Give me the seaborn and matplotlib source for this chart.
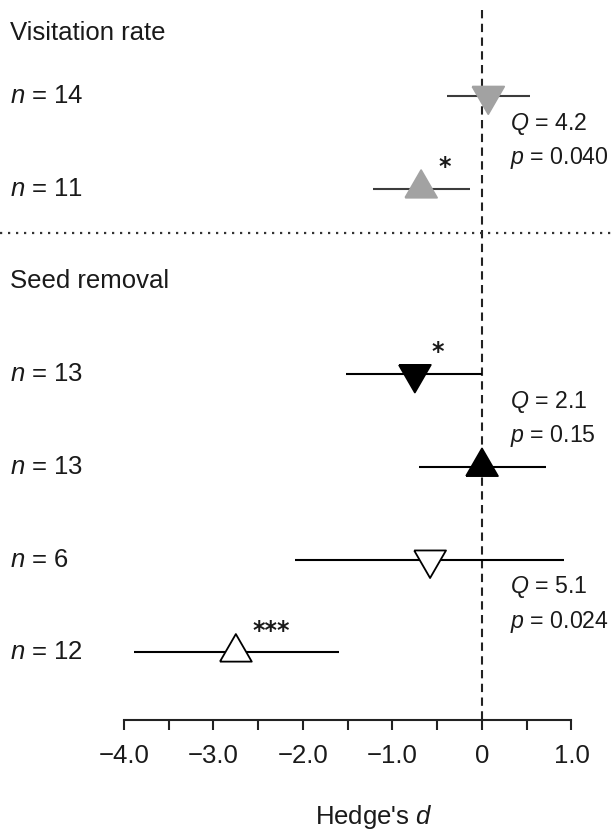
import numpy as np
import pandas as pd
import matplotlib
matplotlib.use('Agg')
import matplotlib.pyplot as plt
import matplotlib.transforms as mtransforms
import seaborn as sns

# Hedge's d with 95% CI, listed top to bottom
response = ['Visitation rate'] * 2 + ['Seed removal'] * 4
n_sizes = [14, 11, 13, 13, 6, 12]
hedge_d = [0.07, -0.68, -0.75, 0.0, -0.58, -2.75]
ci_low = [-0.39, -1.22, -1.52, -0.70, -2.09, -3.89]
ci_high = [0.54, -0.13, 0.0, 0.72, 0.92, -1.60]
stars = ['', '*', '*', '', '', '***']
fill = ['grey', 'grey', 'black', 'black', 'white', 'white']
pointing = ['down', 'up', 'down', 'up', 'down', 'up']

# heterogeneity test for each pair of rows
q_values = ['4.2', '2.1', '5.1']
p_values = ['0.040', '0.15', '0.024']

tick_vals = [-4, -3, -2, -1, 0, 1]
tick_text = ['\u22124.0', '\u22123.0', '\u22122.0', '\u22121.0', '0', '1.0']

sns.set_theme(style='white')
plt.rcParams['font.family'] = ['Liberation Sans', 'DejaVu Sans']
plt.rcParams['mathtext.fontset'] = 'custom'
plt.rcParams['mathtext.rm'] = 'Liberation Sans'
plt.rcParams['mathtext.it'] = 'Liberation Sans:italic'

df = pd.DataFrame({'response': response, 'n': n_sizes, 'd': hedge_d,
                   'lo': ci_low, 'hi': ci_high, 'star': stars,
                   'fill': fill, 'pointing': pointing})
groups = list(dict.fromkeys(response))
df['row'] = np.arange(len(df)) + df['response'].map(groups.index)

face_pal = {'grey': '#a2a2a2', 'black': 'black', 'white': 'white'}
edge_pal = {'grey': '#a2a2a2', 'black': 'black', 'white': 'black'}
line_pal = {'grey': '#3c3c3c', 'black': 'black', 'white': 'black'}

# equilateral triangles centred on their centroid (closed paths)
h = np.sqrt(3)
up_tri = [(-1, -h / 3), (1, -h / 3), (0, 2 * h / 3), (-1, -h / 3)]
down_tri = [(-1, h / 3), (1, h / 3), (0, -2 * h / 3), (-1, h / 3)]

fig = plt.figure(figsize=(6.15, 8.38), dpi=100)
ax = fig.add_axes([0, 0, 1, 1])
ax.set_xlim(-5.385, 1.486)
ax.set_ylim(8.0, -1.032)

axis_y = 6.73

# zero line and section separator
ax.vlines(0, -0.92, axis_y, colors='#222222', lw=1.5,
          linestyles=(0, (4, 2.6)), zorder=1)
ax.axhline(1.474, color='#333333', lw=1.6, ls=(0, (1, 2.6)), zorder=1)

# confidence intervals
ax.hlines(df['row'], df['lo'], df['hi'], colors=df['fill'].map(line_pal),
          lw=1.5, zorder=2)

sns.scatterplot(data=df, x='d', y='row', hue='fill', palette=face_pal,
                style='pointing', markers={'up': up_tri, 'down': down_tri},
                s=700, edgecolor=list(df['fill'].map(edge_pal)),
                linewidth=1.3, legend=False, zorder=3, ax=ax)

lab_tf = mtransforms.blended_transform_factory(ax.transAxes, ax.transData)
fs = 18.5
txt = '#1a1a1a'
for _, r in df.iterrows():
    ax.text(0.016, r['row'], f"$n$ = {r['n']}", transform=lab_tf,
            ha='left', va='center', fontsize=fs, color=txt)
    if r['star']:
        ax.text(r['d'] + 0.19, r['row'] - 0.16, r['star'], ha='left',
                va='baseline', fontsize=17, family='DejaVu Sans',
                fontweight='bold', color=txt)

# section headings
title_gap = [0.68, 1.0]
for g, gap in zip(groups, title_gap):
    first = df.loc[df['response'] == g, 'row'].min()
    ax.text(0.016, first - gap, g, transform=lab_tf, ha='left',
            va='center', fontsize=fs, color=txt)

for i, (q, p) in enumerate(zip(q_values, p_values)):
    first = df['row'].iloc[2 * i]
    ax.text(0.31, first + 0.30, f"$Q$ = {q}", ha='left', va='center',
            fontsize=16.7, color=txt)
    ax.text(0.31, first + 0.67, f"$p$ = {p}", ha='left', va='center',
            fontsize=16.7, color=txt)

# bottom axis
for side in ['top', 'left', 'right']:
    ax.spines[side].set_visible(False)
ax.spines['bottom'].set_position(('data', axis_y))
ax.spines['bottom'].set_bounds(-4, 1)
ax.spines['bottom'].set_color('#222222')
ax.spines['bottom'].set_linewidth(1.5)
all_ticks = np.arange(-4, 1.01, 0.5)
ax.set_xticks(all_ticks)
ax.set_xticklabels([tick_text[tick_vals.index(int(t))] if t == int(t) else ''
                    for t in all_ticks])
ax.tick_params(axis='x', bottom=True, direction='out', length=7, width=1.5,
               color='#222222', pad=10, labelsize=fs, labelcolor=txt)
ax.set_yticks([])
ax.set_xlabel("Hedge's $d$", fontsize=fs, color=txt)
ax.xaxis.set_label_coords(374 / 615, (838 - 803) / 838)
ax.xaxis.label.set_va('top')
ax.set_ylabel('')

fig.savefig('out.png', dpi=100, facecolor='white')
